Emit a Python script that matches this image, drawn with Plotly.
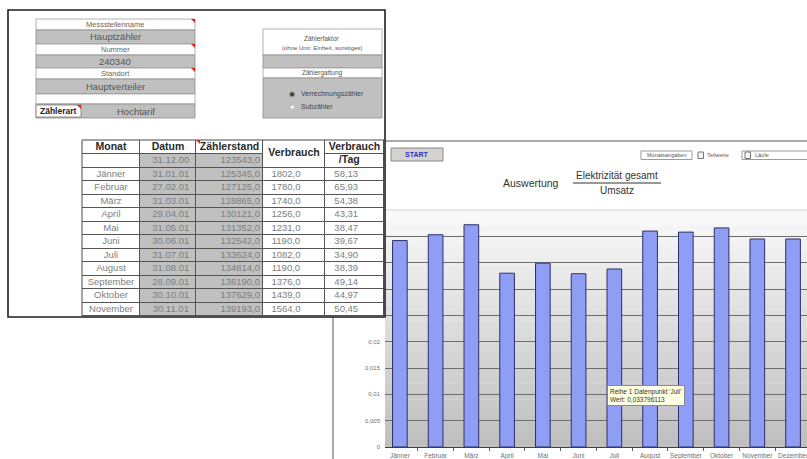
import plotly.graph_objects as go

W, H = 807, 459
FONT = "Liberation Sans, Arial, sans-serif"

# ---------------- chart data (Elektrizität gesamt / Umsatz) ----------------
months = ["Jänner", "Februar", "März", "April", "Mai", "Juni", "Juli",
          "August", "September", "Oktober", "November", "Dezember"]
ratio = [0.0392, 0.0403, 0.0422, 0.0330, 0.0349, 0.0329, 0.0338,
         0.0410, 0.0408, 0.0416, 0.0395, 0.0395]
y_tick_vals = [0, 0.005, 0.01, 0.015, 0.02, 0.025, 0.03, 0.035, 0.04]
# labels above 0,02 are hidden behind the spreadsheet window
y_tick_text = ["0", "0,005", "0,01", "0,015", "0,02", "", "", "", ""]

# ---------------- spreadsheet data ----------------
tbl_header = ["Monat", "Datum", "Zählerstand", "Verbrauch", "Verbrauch"]
tbl_monat = ["", "Jänner", "Februar", "März", "April", "Mai", "Juni", "Juli",
             "August", "September", "Oktober", "November"]
tbl_datum = ["31.12.00", "31.01.01", "27.02.01", "31.03.01", "29.04.01", "31.05.01",
             "30.06.01", "31.07.01", "31.08.01", "28.09.01", "30.10.01", "30.11.01"]
tbl_stand = ["123543,0", "125345,0", "127125,0", "128865,0", "130121,0", "131352,0",
             "132542,0", "133624,0", "134814,0", "136190,0", "137629,0", "139193,0"]
tbl_verbr = ["", "1802,0", "1780,0", "1740,0", "1256,0", "1231,0",
             "1190,0", "1082,0", "1190,0", "1376,0", "1439,0", "1564,0"]
tbl_tag = ["/Tag", "58,13", "65,93", "54,38", "43,31", "38,47",
           "39,67", "34,90", "38,39", "49,14", "44,97", "50,45"]

form_labels = ["Messstellenname", "Nummer", "Standort", ""]
form_values = ["Hauptzähler", "240340", "Hauptverteiler", "Hochtarif"]
meter_title = ["Zählerfaktor", "(ohne Umr. Einheit, sonstiges)"]
meter_kind = "Zählergattung"
radio_opts = ["Verrechnungszähler", "Subzähler"]
toolbar_items = ["Monatsangaben", "Teilwerte", "Läufe"]

# table geometry (style): column widths, row heights, text anchoring, grey columns
col_w = [58, 56, 67, 62, 59]
col_text = [("c", 0.5), ("c", 0.55), ("r", 3), ("c", 0.37), ("c", 0.36)]
col_grey = [0, 1, 1, 0, 0]
head_h, row_h = 14, 13.5


def X(p):
    return p / W


def Y(p):
    return 1 - p / H


shapes, annos = [], []


def rect(x0, y0, x1, y1, fill="rgba(0,0,0,0)", line="#808080", lw=1, layer="above"):
    shapes.append(dict(type="rect", xref="paper", yref="paper", x0=X(x0), x1=X(x1),
                       y0=Y(y1), y1=Y(y0), fillcolor=fill,
                       line=dict(color=line, width=lw), layer=layer))


def seg(x0, y0, x1, y1, color, lw=1, layer="above"):
    shapes.append(dict(type="line", xref="paper", yref="paper", x0=X(x0), x1=X(x1),
                       y0=Y(y0), y1=Y(y1), line=dict(color=color, width=lw), layer=layer))


def tri(x, y, color="#e02020"):
    shapes.append(dict(type="path", xref="paper", yref="paper",
                       path=f"M {X(x-4)} {Y(y)} L {X(x)} {Y(y)} L {X(x)} {Y(y+4)} Z",
                       fillcolor=color, line=dict(width=0), layer="above"))


def txt(x, y, s, size=8, color="#555555", xanchor="center", bold=False, **kw):
    if bold:
        s = f"<b>{s}</b>"
    d = dict(xref="paper", yref="paper", x=X(x), y=Y(y), text=s, showarrow=False,
             xanchor=xanchor, yanchor="middle",
             font=dict(family=FONT, size=size, color=color), borderpad=0)
    d.update(kw)
    annos.append(d)


# ---- plot background gradient (white at top -> grey at bottom) ----
n = 30
for i in range(n):
    t0, t1 = i / n, (i + 1) / n
    tm = (t0 + t1) / 2
    g = int(round(190 + (250 - 190) * tm))
    shapes.append(dict(type="rect", xref="x domain", yref="y domain", x0=0, x1=1,
                       y0=t0, y1=min(1, t1 + 0.002), fillcolor=f"rgb({g},{g},{g})",
                       line=dict(width=0), layer="below"))

# ---- chart window frame (underneath the spreadsheet window) ----
seg(333, 141, 807, 141, "#8c8c8c", 1.5, layer="below")
seg(333, 141, 333, 459, "#8c8c8c", 1.5, layer="below")
seg(333, 210, 807, 210, "#d2d2d2", 1, layer="below")
# spreadsheet window background
rect(8, 10, 385, 317, fill="#ffffff", line="rgba(0,0,0,0)", lw=0, layer="below")
# table grid colour shows through the gaps of the cell bricks
shapes.append(dict(type="rect", xref="x2 domain", yref="y2 domain", x0=0, x1=1, y0=0, y1=1,
                   fillcolor="#555555", line=dict(width=0), layer="below"))

# ---- chart header ----
rect(391, 148, 443, 161, fill="#d6d3ce", line="#8a8a8a", lw=1)
txt(417, 154.5, "START", size=7, color="#3232c8", bold=True)
txt(531, 183, "Auswertung", size=10.5, color="#333333")
txt(617, 175, "Elektrizität gesamt", size=10, color="#333333")
seg(573, 183, 661, 183, "#333333", 1)
txt(617, 191, "Umsatz", size=10, color="#333333")
rect(641, 151, 692, 159.5, fill="#ffffff", line="#9a9a9a", lw=1)
txt(666, 155.3, toolbar_items[0], size=5.5, color="#555555")
rect(698, 152, 703.5, 158.5, fill="#f4f4f4", line="#777777", lw=1)
txt(706, 155.3, toolbar_items[1], size=5.5, color="#555555", xanchor="left")
rect(742, 151, 812, 159.5, fill="#ffffff", line="#9a9a9a", lw=1)
rect(745, 152, 750.5, 158.5, fill="#f4f4f4", line="#777777", lw=1)
txt(754, 155.3, toolbar_items[2], size=5.5, color="#555555", xanchor="left")

# ---- tooltip on the Juli bar ----
txt(607, 395.5, "Reihe 1 Datenpunkt 'Juli'<br>Wert: 0,033796113", size=6.5,
    color="#333333", xanchor="left", align="left", bgcolor="#ffffe1",
    bordercolor="#8a8a8a", borderwidth=1, borderpad=2)

# ---- spreadsheet window border + table outline ----
rect(8, 10, 385, 317, fill="rgba(0,0,0,0)", line="#1e1e1e", lw=1.6)
rect(82, 140, 384, 317, fill="rgba(0,0,0,0)", line="#4a4a4a", lw=1)

# form block on the left
rows = [(19, 30, 30, 44), (44, 55, 55, 68), (68, 79, 79, 94), (94, 104, 104, 118)]
for (a, b, c, d), lab in zip(rows, form_labels):
    rect(36, a, 195, b, fill="#ffffff", line="#a0a0a0", lw=0.8)
    rect(36, c, 195, d, fill="#c0c0c0", line="#8c8c8c", lw=0.8)
    if lab:
        txt(115, (a + b) / 2, lab, size=7.5, color="#666666")
        tri(195, a)
rect(36, 105, 81, 117, fill="#ffffff", line="#7a7a7a", lw=0.8)
txt(58.5, 111, "Zählerart", size=8.5, color="#222222", bold=True)
tri(81, 105)
for i, ((a, b, c, d), val) in enumerate(zip(rows, form_values)):
    txt(136 if i == 3 else 115, (c + d) / 2, val, size=9.5, color="#555555")

# meter block on the right
rect(263, 29, 382, 55, fill="#ffffff", line="#a0a0a0", lw=0.8)
txt(322, 38, meter_title[0], size=6.5, color="#555555")
txt(322, 48, meter_title[1], size=6, color="#555555")
rect(263, 55, 382, 68, fill="#c0c0c0", line="#8c8c8c", lw=0.8)
rect(263, 68, 382, 78, fill="#ffffff", line="#a0a0a0", lw=0.8)
txt(322, 73, meter_kind, size=6.5, color="#555555")
rect(263, 78, 382, 118, fill="#c0c0c0", line="#8c8c8c", lw=0.8)
txt(292, 94, "◉", size=7, color="#333333")
txt(300, 94, radio_opts[0], size=7, color="#444444", xanchor="left")
txt(292, 106.5, "●", size=7, color="#ffffff")
txt(300, 106.5, radio_opts[1], size=7, color="#444444", xanchor="left")
tri(200, 140)

# ---- bar chart ----
bar = go.Bar(x=months, y=ratio, marker=dict(color="#8e9ef4", line=dict(color="#2e3068", width=1)),
             width=0.41, hoverinfo="skip", showlegend=False)

# ---- spreadsheet table (cells as heatmap bricks on x2/y2, text as scatter text) ----
nrows = len(tbl_monat)
xe = [0]
for w in col_w:
    xe.append(xe[-1] + w)
ye = [0, head_h]
for _ in range(nrows):
    ye.append(ye[-1] + row_h)
yc = [(ye[i] + ye[i + 1]) / 2 for i in range(len(ye) - 1)]

hm = dict(colorscale=[[0, "#ffffff"], [1, "#c0c0c0"]], zmin=0, zmax=1, showscale=False,
          xgap=1, ygap=1, hoverinfo="skip", xaxis="x2", yaxis="y2")
cells_a = go.Heatmap(x=xe[0:4], y=ye, z=[[0, 0, 0]] + [col_grey[0:3]] * nrows, **hm)
cells_b = go.Heatmap(x=xe[3:5], y=[ye[0]] + ye[2:], z=[[0]] * nrows, **hm)   # merged "Verbrauch"
cells_c = go.Heatmap(x=xe[4:6], y=ye, z=[[0]] * (nrows + 1), **hm)

columns = [tbl_monat, tbl_datum, tbl_stand, tbl_verbr, tbl_tag]


def text_x(ci):
    kind, v = col_text[ci]
    if kind == "r":
        return xe[ci + 1] - v, "middle left"
    return xe[ci] + v * col_w[ci], "middle center"


hx, hy, ht = [], [], []
bx, by, bt, bp = [], [], [], []
for ci, name in enumerate(tbl_header):
    hx.append((xe[ci] + xe[ci + 1]) / 2)
    hy.append((ye[0] + ye[2]) / 2 if ci == 3 else yc[0])
    ht.append(f"<b>{name}</b>")
    for ri, val in enumerate(columns[ci]):
        if not val:
            continue
        if ci == 4 and ri == 0:
            hx.append(text_x(ci)[0] + 3)
            hy.append(yc[1])
            ht.append(f"<b>{val}</b>")
            continue
        tx, tp = text_x(ci)
        bx.append(tx)
        by.append(yc[ri + 1])
        bt.append(val)
        bp.append(tp)

head_text = go.Scatter(x=hx, y=hy, text=ht, mode="text", textposition="middle center",
                       textfont=dict(family=FONT, size=10.5, color="#2a2a2a"),
                       hoverinfo="skip", showlegend=False, xaxis="x2", yaxis="y2")
body_text = go.Scatter(x=bx, y=by, text=bt, mode="text", textposition=bp,
                       textfont=dict(family=FONT, size=9.5, color="#7e7e7e"),
                       hoverinfo="skip", showlegend=False, xaxis="x2", yaxis="y2")

fig = go.Figure([bar, cells_a, cells_b, cells_c, head_text, body_text])
fig.update_layout(
    width=W, height=H, margin=dict(l=0, r=0, t=0, b=0, autoexpand=False),
    paper_bgcolor="#ffffff", plot_bgcolor="rgba(0,0,0,0)",
    separators=",.", bargap=0.59, showlegend=False,
    font=dict(family=FONT),
    xaxis=dict(domain=[X(385), 1], range=[-0.416, 11.39], type="category", automargin=False,
               showgrid=False, showline=True, linecolor="#404040", linewidth=1.2,
               ticks="outside", ticklen=3, tickcolor="#606060", tickson="boundaries",
               tickangle=0, ticklabelstandoff=2,
               tickfont=dict(size=6.5, color="#707070"), fixedrange=True),
    yaxis=dict(domain=[Y(447), Y(210)], range=[0, 0.045], tickvals=y_tick_vals,
               ticktext=y_tick_text, automargin=False,
               showgrid=True, gridcolor="#6e6e6e", gridwidth=1.2, zeroline=False,
               showline=False, ticks="", ticklabelstandoff=4,
               tickfont=dict(size=6, color="#707070"), fixedrange=True),
    xaxis2=dict(domain=[X(82), X(384)], range=[0, xe[-1]], anchor="y2", visible=False,
                automargin=False, fixedrange=True),
    yaxis2=dict(domain=[Y(140 + ye[-1]), Y(140)], range=[ye[-1], 0], anchor="x2",
                visible=False, automargin=False, fixedrange=True),
    shapes=shapes, annotations=annos,
)
fig.write_html("out.html")
